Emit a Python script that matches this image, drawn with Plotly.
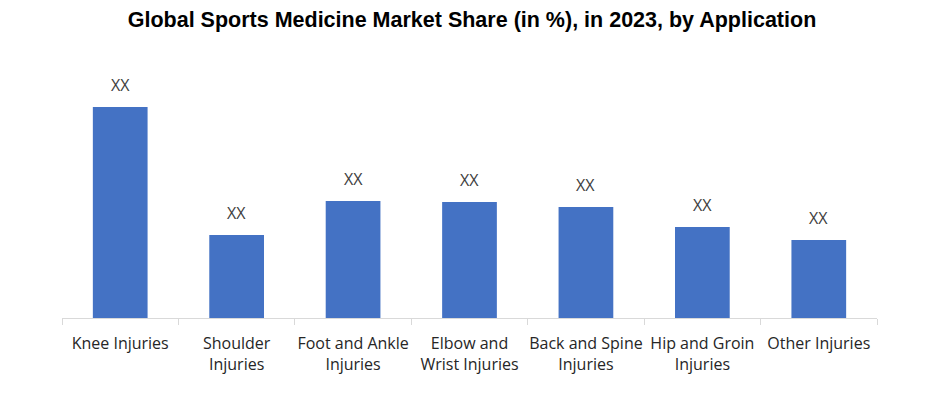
import plotly.graph_objects as go

categories = ["Knee Injuries", "Shoulder<br>Injuries", "Foot and Ankle<br>Injuries",
              "Elbow and<br>Wrist Injuries", "Back and Spine<br>Injuries",
              "Hip and Groin<br>Injuries", "Other Injuries"]
values = [21.1, 8.3, 11.7, 11.6, 11.1, 9.1, 7.8]
labels = ["XX"] * len(values)

fig = go.Figure()
fig.add_trace(go.Bar(x=categories, y=values, marker=dict(color="#4472C4", line=dict(width=0)),
                     hoverinfo="skip"))

for c, v, t in zip(categories, values, labels):
    fig.add_annotation(x=c, y=v, text=t, showarrow=False, yshift=22,
                       font=dict(family="Open Sans", size=16, color="#404040"))

fig.update_layout(
    width=928, height=409,
    margin=dict(l=54, r=59, t=52, b=99, autoexpand=False),
    paper_bgcolor="white", plot_bgcolor="white",
    bargap=0.53,
    showlegend=False,
    title=dict(text="<b>Global Sports Medicine Market Share (in %), in 2023, by Application</b>",
               x=0.5, xanchor="center", y=0.973, yanchor="middle",
               font=dict(family="Liberation Sans", size=21.5, color="black")),
    xaxis=dict(showline=True, linecolor="#D9D9D9", linewidth=1,
               ticks="outside", tickson="boundaries", ticklen=6, tickcolor="#D9D9D9",
               ticklabelstandoff=11, tickangle=0, automargin=False,
               tickfont=dict(family="Open Sans", size=16, color="#262626"),
               showgrid=False, fixedrange=True),
    yaxis=dict(visible=False, range=[0, 25.8], showgrid=False, fixedrange=True),
)

fig.write_html("out.html")
